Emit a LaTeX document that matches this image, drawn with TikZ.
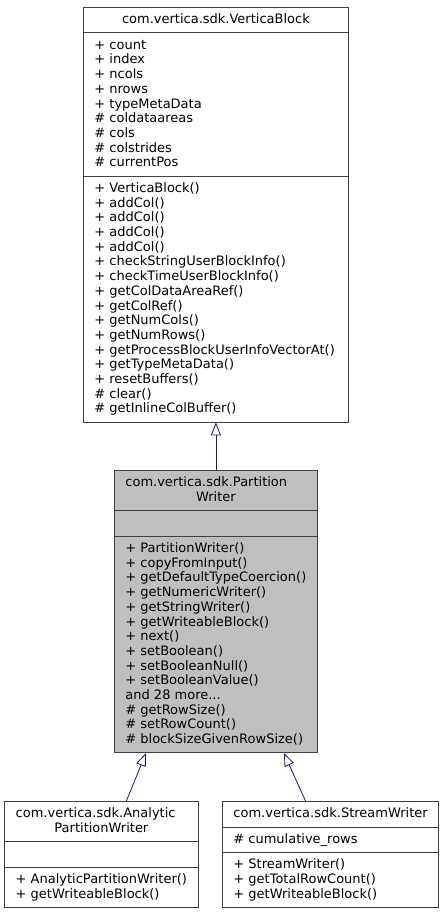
\documentclass[tikz,border=0pt]{standalone}
\usepackage{fontspec}
\setmainfont{DejaVu Sans}
\usetikzlibrary{shapes.multipart,arrows.meta,calc}
\definecolor{boxline}{RGB}{64,64,64}
\definecolor{boxfill}{RGB}{191,191,191}
\definecolor{edgeblue}{RGB}{25,25,112}
\newcommand{\lnstrut}{\rule[-3.7pt]{0pt}{14.7pt}}

\begin{document}
\begin{tikzpicture}[x=1pt,y=-1pt,
	umlclass/.style={rectangle split, rectangle split parts=3, rectangle split part align={center,left,left},
		draw=boxline, line width=0.8pt, inner xsep=11pt, inner ysep=5pt, align=left, anchor=north west,
		font=\fontsize{13}{14.7}\selectfont},
	inherits/.style={draw=edgeblue, line width=0.8pt, -{Triangle[open,length=13pt,width=10pt]}}]

	\useasboundingbox (0,0) rectangle (444,912);

	\node[umlclass, minimum width=265pt] (vb) at (83,7) {\lnstrut com.vertica.sdk.VerticaBlock
		\nodepart{second}\lnstrut + count\\+ index\\+ ncols\\+ nrows\\+ typeMetaData\\\# coldataareas\\\# cols\\\# colstrides\\\# currentPos\lnstrut
		\nodepart{third}\lnstrut + VerticaBlock()\\+ addCol()\\+ addCol()\\+ addCol()\\+ addCol()\\+ checkStringUserBlockInfo()\\+ checkTimeUserBlockInfo()\\+ getColDataAreaRef()\\+ getColRef()\\+ getNumCols()\\+ getNumRows()\\+ getProcessBlockUserInfoVectorAt()\\+ getTypeMetaData()\\+ resetBuffers()\\\# clear()\\\# getInlineColBuffer()\lnstrut};

	\node[umlclass, minimum width=203pt, fill=boxfill] (pw) at (114,470) {\makebox[181pt][l]{\lnstrut com.vertica.sdk.Partition}\\\makebox[181pt][c]{Writer\lnstrut}
		\nodepart{second}\lnstrut
		\nodepart{third}\lnstrut + PartitionWriter()\\+ copyFromInput()\\+ getDefaultTypeCoercion()\\+ getNumericWriter()\\+ getStringWriter()\\+ getWriteableBlock()\\+ next()\\+ setBoolean()\\+ setBooleanNull()\\+ setBooleanValue()\\and 28 more...\\\# getRowSize()\\\# setRowCount()\\\# blockSizeGivenRowSize()\lnstrut};

	\node[umlclass, minimum width=193.4pt] (apw) at (4.3,801) {\makebox[171.4pt][l]{\lnstrut com.vertica.sdk.Analytic}\\\makebox[171.4pt][c]{PartitionWriter\lnstrut}
		\nodepart{second}\lnstrut
		\nodepart{third}\lnstrut + AnalyticPartitionWriter()\\+ getWriteableBlock()\lnstrut};

	\node[umlclass, minimum width=216.3pt] (sw) at (222,801) {\lnstrut com.vertica.sdk.StreamWriter
		\nodepart{second}\lnstrut \# cumulative\_rows
		\nodepart{third}\lnstrut + StreamWriter()\\+ getTotalRowCount()\\+ getWriteableBlock()\lnstrut};

	% generalization arrows
	\draw[inherits] (pw.north) -- (vb.south);
	\draw[inherits] ($(apw.north)+(25,0)$) -- ($(pw.south)+(-70,0)$);
	\draw[inherits] ($(sw.north)+(-25,0)$) -- ($(pw.south)+(68,0)$);

\end{tikzpicture}
\end{document}
